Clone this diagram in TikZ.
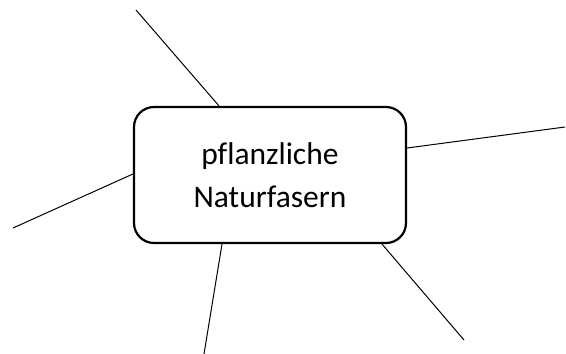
\documentclass[tikz,border=0pt]{standalone}
\usepackage{fontspec}
\setmainfont{Carlito}[Ligatures=CommonOff]
\usetikzlibrary{positioning, calc}

\begin{document}
\begin{tikzpicture}[x=1pt, y=-1pt]
            \tikzstyle{topic} = [rectangle, rounded corners=20pt, draw=black, line width=2.2pt, fill=white, minimum width=272pt, minimum height=136pt, align=center, font=\fontsize{31.5}{43}\selectfont]
            \tikzstyle{branch} = [line width=1pt, black]

            \useasboundingbox (0,0) rectangle (566,354);

            \node[topic] (fasern) at (270,175) {pflanzliche\\Naturfasern};

            \coordinate (endnw) at (136,10);
            \coordinate (ende) at (565,127);
            \coordinate (endw) at (13,228);
            \coordinate (endsw) at (204,354);
            \coordinate (endse) at (464,340);

            \draw[branch] ([xshift=-51pt]fasern.north) -- (endnw);
            \draw[branch] ([yshift=27pt]fasern.east) -- (ende);
            \draw[branch] ([yshift=1pt]fasern.west) -- (endw);
            \draw[branch] ([xshift=-48pt]fasern.south) -- (endsw);
            \draw[branch] ([xshift=112pt]fasern.south) -- (endse);
        \end{tikzpicture}
\end{document}
